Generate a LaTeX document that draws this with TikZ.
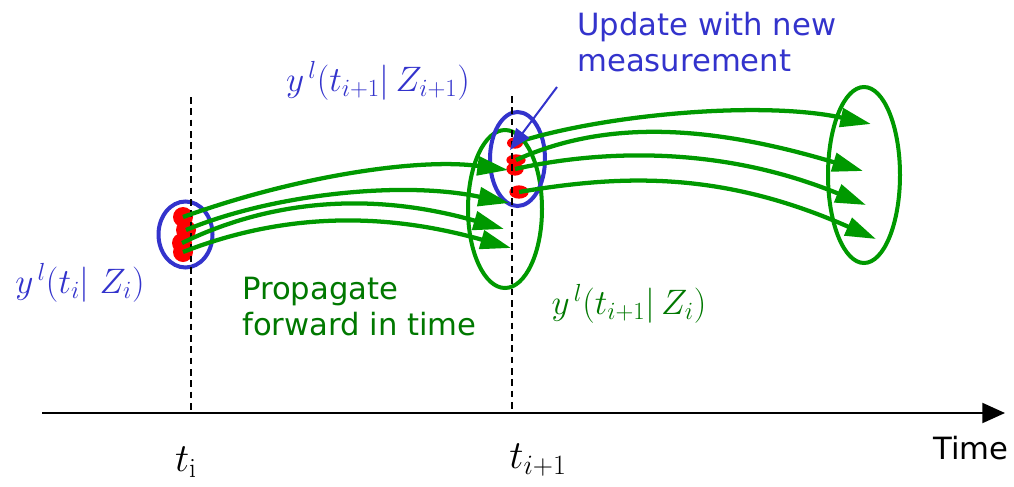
\RequirePackage{fix-cm}
\documentclass[tikz,border=0pt]{standalone}
\usepackage{fontspec}
\newfontfamily\verdfont{DejaVu Sans}
\usetikzlibrary{arrows.meta,shapes.geometric}
\definecolor{setblue}{RGB}{51,51,204}
\definecolor{setgreen}{RGB}{0,153,0}
\definecolor{txtgreen}{RGB}{0,120,0}
\definecolor{dotred}{RGB}{255,0,0}
\tikzset{
  % sets (ellipses)
  bluering/.style  = {draw=setblue, line width=3pt},
  greenring/.style = {draw=setgreen, line width=3pt},
  % particles
  ptl/.style       = {ellipse, fill=dotred, inner sep=0pt},
  % arrows
  flow/.style      = {draw=setgreen, line width=3.2pt, -{Triangle[length=23pt,width=14pt]}},
  updarrow/.style  = {draw=setblue, line width=1.5pt, -{Triangle[length=16pt,width=12pt]}},
  timeaxis/.style  = {draw=black, line width=1.5pt, -{Triangle[length=17pt,width=15pt]}},
  epochline/.style = {draw=black, line width=1.1pt, dash pattern=on 5pt off 3.5pt},
  % labels
  sanslab/.style   = {font=\verdfont\fontsize{23}{27}\selectfont, inner sep=0pt, align=left},
  mathlab/.style   = {font=\fontsize{26.5}{30}\selectfont, inner sep=0pt},
  timelab/.style   = {font=\fontsize{30}{34}\selectfont, inner sep=0pt},
}
\begin{document}
\begin{tikzpicture}[x=0.75pt, y=-0.75pt]
  \useasboundingbox (0,0) rectangle (1014,486);
  % sets
  \draw[bluering]  (185.5,234.5) ellipse [x radius=27, y radius=33];
  \draw[greenring] (505,209) ellipse [x radius=37, y radius=79];
  \draw[bluering]  (517.5,159) ellipse [x radius=27.5, y radius=47];
  \draw[greenring] (864,175) ellipse [x radius=36, y radius=88];
  % particles at t_i
  \node[ptl, minimum width=15pt, minimum height=15pt] (p1) at (183,217) {};
  \node[ptl, minimum width=15pt, minimum height=15pt] (p2) at (186,230) {};
  \node[ptl, minimum width=15pt, minimum height=15pt] (p3) at (182,243) {};
  \node[ptl, minimum width=15pt, minimum height=15pt] (p4) at (183,252) {};
  % particles at t_{i+1}
  \node[ptl, minimum width=12pt, minimum height=8.5pt]  (q1) at (515,143) {};
  \node[ptl, minimum width=14.5pt, minimum height=8.5pt] (q2) at (516,160) {};
  \node[ptl, minimum width=13pt, minimum height=10pt]   (q3) at (515,169) {};
  \node[ptl, minimum width=14.5pt, minimum height=10pt] (q4) at (519,192) {};
  % time axis and epochs
  \coordinate (ax0) at (42,413);
  \coordinate (ax1) at (1005,413);
  \coordinate (ep1top) at (191,97);
  \coordinate (ep1bot) at (191,413);
  \coordinate (ep2top) at (512,96);
  \coordinate (ep2bot) at (512,413);
  \draw[epochline] (ep1top) -- (ep1bot);
  \draw[epochline] (ep2top) -- (ep2bot);
  \draw[timeaxis] (ax0) -- (ax1);
  % propagation t_i -> t_{i+1}
  \coordinate (e1) at (508,170);
  \coordinate (e2) at (509,203);
  \coordinate (e3) at (504,229);
  \coordinate (e4) at (511,248);
  \draw[flow] (p1.center) .. controls (300,175) and (420,158) .. (e1);
  \draw[flow] (p2.center) .. controls (270,195) and (400,180) .. (e2);
  \draw[flow] (p3.center) .. controls (260,205) and (360,188) .. (e3);
  \draw[flow] (p4.center) .. controls (260,222) and (360,205) .. (e4);
  % propagation t_{i+1} -> next
  \coordinate (f1) at (871,124);
  \coordinate (f2) at (863,171);
  \coordinate (f3) at (866,205);
  \coordinate (f4) at (876,239);
  \draw[flow] (q1.center) .. controls (600,115) and (760,100) .. (f1);
  \draw[flow] (q2.center) .. controls (600,122) and (700,122) .. (f2);
  \draw[flow] (q3.center) .. controls (600,150) and (720,145) .. (f3);
  \draw[flow] (q4.center) .. controls (620,175) and (720,170) .. (f4);
  % update arrow
  \coordinate (updfrom) at (557,87);
  \coordinate (updto) at (510,150);
  \draw[updarrow] (updfrom) -- (updto);
  % labels
  \node[sanslab, setblue, anchor=north west] (updtxt) at (577,12) {Update with new\\measurement};
  \node[sanslab, txtgreen, anchor=north west] (proptxt) at (242,277) {Propagate\\forward in time};
  \node[sanslab, anchor=north west] (timetxt) at (933,436) {Time};
  \node[mathlab, setblue, anchor=base] (yti) at (80,293) {$y^{\,l}(t_i|\;Z_i)$};
  \node[mathlab, setblue, anchor=base] (ytnext) at (378,91) {$y^{\,l}(t_{i+1}|\,Z_{i+1})$};
  \node[mathlab, txtgreen, anchor=base] (ypred) at (629,314) {$y^{\,l}(t_{i+1}|\,Z_i)$};
  \node[timelab, anchor=base] (tlab1) at (186,471) {$t_{\mathrm{i}}$};
  \node[timelab, anchor=base] (tlab2) at (538,468) {$t_{i+1}$};
\end{tikzpicture}
\end{document}
